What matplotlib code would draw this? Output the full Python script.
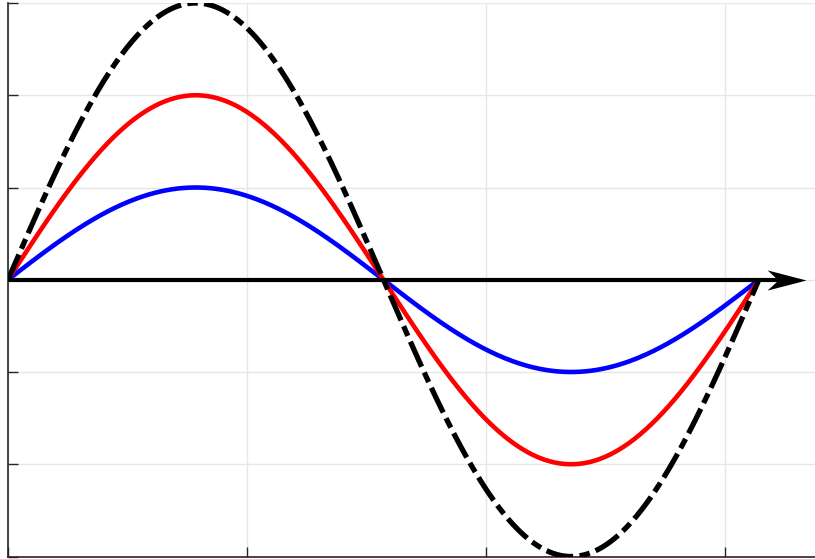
import numpy as np
import matplotlib
matplotlib.use("Agg")
import matplotlib.pyplot as plt
from matplotlib.path import Path

# Data: three sine waves over one period, amplitudes 1, 2, 3
amplitudes = [1, 2, 3]
colors = ["#0000ff", "#ff0000", "#000000"]
x_start, x_end = 0.0, 2 * np.pi
xticks = [0, 2, 4, 6]
yticks = [-3, -2, -1, 0, 1, 2, 3]
arrow_tip = 6.68

x = np.linspace(x_start, x_end, 400)

W, H = 815, 559
fig = plt.figure(figsize=(W / 100, H / 100), dpi=100)
px = 119.5
left = 8 / W
bottom = (H - 556.5) / H
height = 553.5 / H
width = 7 * px / W
ax = fig.add_axes([left, bottom, width, height])

# curves
ax.plot(x, amplitudes[0] * np.sin(x), color=colors[0], lw=3.3, solid_capstyle="butt", zorder=3)
ax.plot(x, amplitudes[1] * np.sin(x), color=colors[1], lw=3.3, solid_capstyle="butt", zorder=4)
ax.plot(x, amplitudes[2] * np.sin(x), color=colors[2], lw=3.8,
        linestyle=(0, (5.2, 1.2, 2.0, 1.2)), dash_capstyle="butt", zorder=5)

# axis arrow
ax.plot([x_start, arrow_tip - 0.1], [0, 0], color="black", lw=3.0, solid_capstyle="butt", zorder=6)
head = Path([(0, 0), (-1, 0.26), (-0.72, 0), (-1, -0.26), (0, 0)],
            [Path.MOVETO, Path.LINETO, Path.LINETO, Path.LINETO, Path.CLOSEPOLY])
ax.plot([arrow_tip], [0], marker=head, markersize=56, color="black",
        markeredgewidth=0, linestyle="none", zorder=7, clip_on=False)

ax.set_xlim(0, 7)
ax.set_ylim(-3, 3)
ax.set_xticks(xticks)
ax.set_yticks(yticks)
ax.set_xticklabels([])
ax.set_yticklabels([])
ax.grid(True, color="#e6e6e6", lw=1.0, zorder=0)
ax.set_axisbelow(True)
ax.tick_params(direction="in", length=7, width=1.0, color="#262626")
for s in ["top", "right"]:
    ax.spines[s].set_visible(False)
for s in ["left", "bottom"]:
    ax.spines[s].set_color("#262626")
    ax.spines[s].set_linewidth(1.2)

fig.savefig("out.png", dpi=100)
